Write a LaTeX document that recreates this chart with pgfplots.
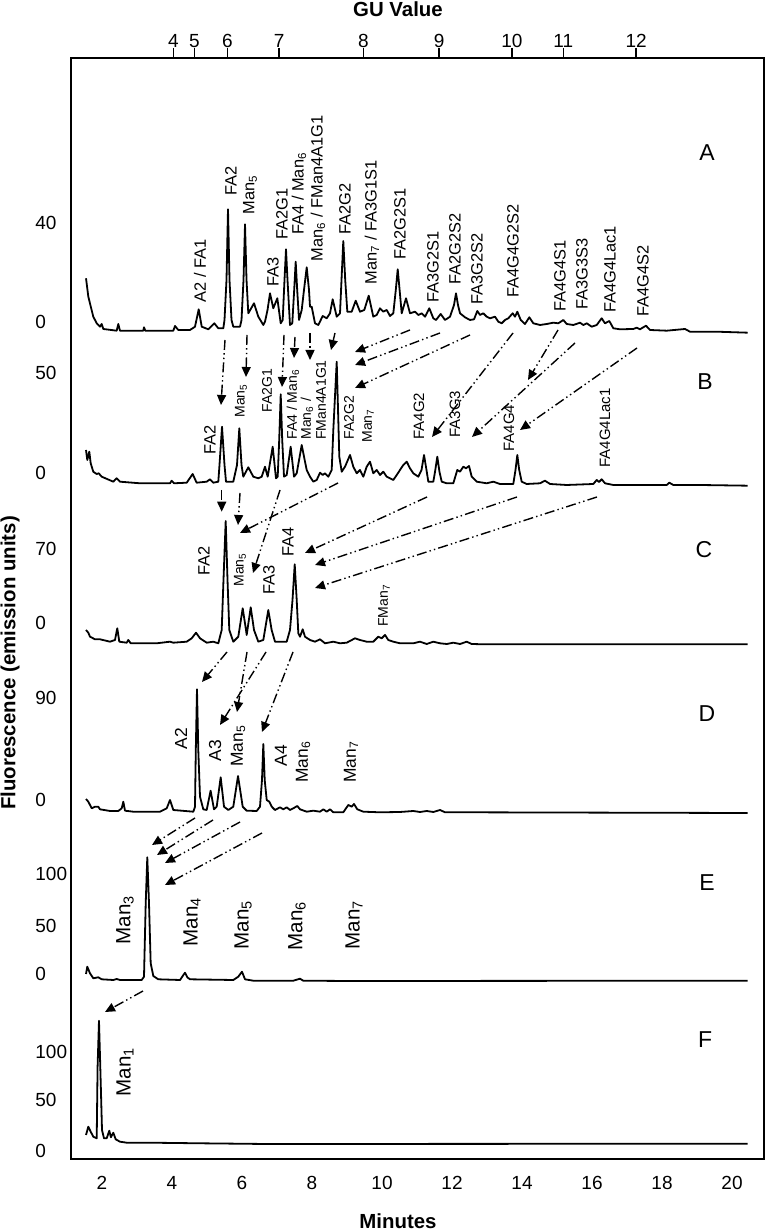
\documentclass[border=0pt]{standalone}
\usepackage{pgfplots}
\pgfplotsset{compat=1.18}
\usepackage{fontspec}
\setmainfont{Liberation Sans}
\usetikzlibrary{arrows.meta}
\begin{document}
\begin{tikzpicture}
\useasboundingbox (0pt,0pt) rectangle (383pt,615.5pt);
\tikzset{
 ann/.style={rotate=90,anchor=west,inner sep=0pt,font=\fontsize{8.2}{9}\selectfont},
 annd/.style={rotate=90,anchor=west,inner sep=0pt,font=\fontsize{8.7}{10}\selectfont},
 anns/.style={rotate=90,anchor=west,inner sep=0pt,font=\fontsize{7}{8}\selectfont},
 annm/.style={rotate=90,anchor=west,inner sep=0pt,font=\fontsize{7.5}{8}\selectfont},
 annl/.style={rotate=90,anchor=west,inner sep=0pt,font=\fontsize{10.3}{12}\selectfont},
 let/.style={font=\fontsize{11.5}{13}\selectfont},
 arr/.style={line width=0.7pt, dash pattern=on 5pt off 1.6pt on 0.7pt off 1.6pt on 0.7pt off 1.6pt, -{Triangle[length=5pt,width=4.5pt]}},
 tr/.style={black, line width=0.9pt, line join=round}
}
\begin{axis}[
  at={(35.5pt,36pt)}, anchor=south west, scale only axis,
  width=346.5pt, height=550.5pt,
  xmin=1.1143, xmax=20.914, ymin=0, ymax=1101,
  clip=false,
  axis line style={line width=0.8pt},
  major tick length=0pt,
  xtick={2,4,6,8,10,12,14,16,18,20},
  xticklabels={2,4,6,8,10,12,14,16,18,20},
  xticklabel style={anchor=center, yshift=-12pt, inner sep=0pt, font=\fontsize{9.5}{10}\selectfont},
  ytick={8.3,59,107.3,185,233,284.7,359,460.7,535.7,609.7,685.7,786.3,837.3,936.3},
  yticklabels={0,50,100,0,50,100,0,90,0,70,0,50,0,40},
  yticklabel style={anchor=west, xshift=-18pt, inner sep=0pt, font=\fontsize{9.5}{10}\selectfont},
]
% Trace A
\addplot[tr] coordinates {
(1.543,880.7)(1.609,862.3)(1.751,842.3)(1.849,835.7)(1.943,832.3)(1.991,835)(2.037,830)(2.42,828.3)(2.466,835)(2.514,828.3)
(3.18,828.3)(3.2,831.7)(3.237,828.3)(4.037,828.3)(4.086,833)(4.18,829)(4.514,829)(4.657,832.3)(4.763,849.7)(4.849,832.3)
(5.037,829.7)(5.209,835.7)(5.323,830.7)(5.466,830.7)(5.5,839)(5.557,879)(5.6,949.7)(5.643,879)(5.7,839)(5.751,832.3)
(5.943,832.3)(5.986,839)(6.043,879)(6.086,934.7)(6.129,879)(6.18,845.7)(6.343,855.7)(6.466,842.3)(6.609,834)(6.657,837.3)
(6.729,849)(6.8,865.7)(6.894,850.7)(7.009,860.7)(7.106,835.7)(7.163,839)(7.214,879)(7.257,909.7)(7.3,879)(7.371,834)
(7.437,835.7)(7.491,869)(7.534,897.3)(7.577,869)(7.629,839)(7.706,849)(7.771,869)(7.849,891.7)(7.914,869)(7.943,852.3)
(7.991,852.3)(8.086,835.7)(8.18,834)(8.306,843)(8.42,840.7)(8.514,845.7)(8.591,859.7)(8.706,842.3)(8.8,845.7)(8.843,879)
(8.894,918)(8.949,879)(9.009,847.3)(9.134,847.3)(9.249,858.3)(9.371,847.3)(9.494,849)(9.62,863.3)(9.751,842.3)(9.849,844)
(9.943,850.7)(10.037,847.3)(10.134,849)(10.229,843)(10.323,845.7)(10.394,869)(10.449,889.7)(10.503,869)(10.563,845.7)(10.686,860.7)
(10.8,845.7)(10.943,847.3)(11.037,844)(11.134,845.7)(11.229,842.3)(11.351,850.7)(11.466,840.7)(11.543,839)(11.677,845)(11.8,839)
(11.943,842.3)(12.057,854)(12.114,865.7)(12.171,854)(12.229,845.7)(12.371,841.7)(12.514,839)(12.629,839.7)(12.723,848)(12.8,844)
(12.894,845.7)(12.991,842.3)(13.086,840.7)(13.229,842.3)(13.323,837.3)(13.42,835.7)(13.514,839)(13.609,840.7)(13.734,845.7)(13.8,842.3)
(13.866,847.3)(13.963,839)(14.086,835)(14.209,841.7)(14.323,835.7)(14.514,834)(14.706,835)(14.894,836.3)(15.037,835.7)(15.18,839)
(15.277,835)(15.466,834)(15.657,836.3)(15.751,834)(15.849,835.7)(15.991,832.3)(16.134,834)(16.277,840.7)(16.371,835.7)(16.494,838)
(16.609,830.7)(16.8,829.7)(17.18,830)(17.277,831.3)(17.371,829.7)(17.543,833.3)(17.657,829)(18.134,828.3)(18.657,830)(18.8,827.3)
(19.563,827.3)(20.449,826.3)
};
% Trace B
\addplot[tr] coordinates {
(1.543,709)(1.58,699)(1.637,707.3)(1.677,695.7)(1.751,687.3)(1.849,685)(1.906,685.7)(1.991,682.3)(2.323,677.3)(2.417,680.7)
(2.514,677.3)(3.086,675.7)(3.943,675.7)(3.991,678.3)(4.057,675.7)(4.42,676.3)(4.591,685)(4.703,676.3)(4.991,677.3)(5.086,679.7)
(5.18,676.3)(5.323,677.3)(5.357,694)(5.429,732.3)(5.5,694)(5.543,677.3)(5.751,677.3)(5.857,694)(5.923,730.7)(5.986,694)
(6.037,682.3)(6.18,691.7)(6.323,682.3)(6.466,680.7)(6.563,682.3)(6.657,692.3)(6.734,682.3)(6.877,712.3)(6.971,680.7)(7.02,682.3)
(7.063,719)(7.106,764.7)(7.149,719)(7.2,682.3)(7.277,684)(7.391,712.3)(7.486,682.3)(7.563,685.7)(7.706,714)(7.8,697.3)
(7.849,689)(7.943,682.3)(8.037,677.3)(8.134,679)(8.229,686.3)(8.306,684)(8.371,685.7)(8.466,682.3)(8.563,689)(8.609,729)
(8.706,797.3)(8.78,702.3)(8.849,687.3)(8.943,692.3)(9.086,704)(9.18,692.3)(9.277,685.7)(9.371,689)(9.466,682.3)(9.563,692.3)
(9.657,697.3)(9.751,685.7)(9.849,689)(9.943,684)(10.037,687.3)(10.134,682.3)(10.229,680.7)(10.323,679)(10.42,684)(10.514,689)
(10.609,694)(10.706,697.3)(10.8,690.7)(10.894,685.7)(11.037,682.3)(11.129,689)(11.2,704)(11.271,689)(11.323,677.3)(11.466,677.3)
(11.514,687)(11.58,702.3)(11.643,687)(11.706,677.3)(11.849,675.7)(12.037,675.7)(12.151,689)(12.229,687.3)(12.323,692.3)(12.4,690.7)
(12.486,693)(12.563,682.3)(12.706,677.3)(12.991,675.7)(13.18,677.3)(13.371,675)(13.751,675)(13.814,689)(13.866,704)(13.92,689)
(13.991,677.3)(14.134,675)(14.514,675.7)(14.657,678.3)(14.8,675)(15.277,674)(16.037,675)(16.134,679)(16.2,677)(16.277,679.7)
(16.371,675.7)(16.609,674)(18.134,674)(18.209,676.3)(18.323,674)(19.086,674)(20.449,673.3)
};
% Trace C
\addplot[tr] coordinates {
(1.543,529)(1.609,526.3)(1.657,522.3)(1.8,519.7)(1.943,519.7)(2.229,517.3)(2.371,519)(2.437,530.7)(2.494,517.3)(2.706,516.3)
(2.751,519)(2.82,515.7)(3.563,515.7)(3.943,517.3)(4.037,516.3)(4.42,517.3)(4.563,520.7)(4.686,526.3)(4.8,520.7)(4.991,516.3)
(5.18,517.3)(5.323,515.7)(5.42,529)(5.471,579)(5.534,638)(5.586,579)(5.637,529)(5.751,517.3)(5.894,522.3)(6.02,550.7)
(6.114,529)(6.134,524)(6.249,551.7)(6.343,529)(6.466,517.3)(6.609,519)(6.751,549)(6.847,529)(6.943,517.3)(7.277,517.3)
(7.371,529)(7.443,559)(7.506,594.7)(7.563,559)(7.609,525.7)(7.657,522.3)(7.734,529.7)(7.8,522.3)(7.943,519)(8.086,517.3)
(8.229,519.7)(8.371,515.7)(8.609,517.3)(8.8,515.7)(8.991,516.3)(9.229,520.7)(9.371,519)(9.563,517.3)(9.751,517.3)(9.894,522.3)
(9.991,520.7)(10.086,524)(10.18,519)(10.323,517.3)(10.514,515.7)(10.894,515.7)(11.086,517.3)(11.277,515)(11.466,517.3)(11.657,515.7)
(11.849,515)(12.037,516.3)(12.229,515)(12.42,517.3)(12.563,515)(12.894,514.7)(20.449,514.7)
};
% Trace D
\addplot[tr] coordinates {
(1.543,360)(1.609,357.3)(1.706,350.7)(1.8,352.3)(1.894,352.3)(1.943,349.7)(2.229,348)(2.466,348)(2.563,350.7)(2.609,357.3)
(2.657,348.3)(2.894,347.3)(3.657,347.3)(3.849,350.7)(3.943,359)(4.037,349)(4.609,347.3)(4.657,352.3)(4.68,409)(4.714,469.7)
(4.751,409)(4.8,362.3)(4.894,349.7)(4.991,349)(5.103,368.3)(5.2,349.7)(5.277,352.3)(5.391,381.7)(5.486,352.3)(5.609,349)
(5.751,352.3)(5.886,383)(6.02,352.3)(6.134,348.3)(6.42,348)(6.514,352.3)(6.571,379)(6.609,415)(6.649,379)(6.706,359)
(6.78,357.3)(6.849,352.3)(6.943,349)(7.086,351.7)(7.18,349.7)(7.277,351.7)(7.371,349)(7.466,350.7)(7.58,353)(7.657,349.7)
(7.849,347.3)(8.037,348.3)(8.229,347.3)(8.323,349.7)(8.42,347.3)(8.514,349.7)(8.609,346.7)(8.894,346.7)(9.037,354)(9.134,352.3)
(9.2,355)(9.294,349.7)(9.466,347.3)(9.943,346.7)(10.514,347)(10.894,348)(11.086,347)(11.277,348)(11.466,347)(11.657,349)
(11.8,346.7)(12.42,346.7)(20.449,346)
};
% Trace E
\addplot[tr] coordinates {
(1.543,185)(1.58,192.3)(1.657,185.7)(1.751,180.7)(1.894,181.7)(1.991,179.7)(2.323,179)(2.42,180)(2.514,179)(3.134,179)
(3.2,182.3)(3.249,255.7)(3.294,301.7)(3.343,255.7)(3.391,195.7)(3.466,183)(3.609,179.7)(4.229,179)(4.306,183)(4.371,186.3)
(4.437,181.7)(4.514,179.7)(5.751,179)(5.894,182.3)(6.0,187.3)(6.086,179.7)(6.323,178.3)(7.466,178.3)(7.657,180.3)(7.751,178.3)
(9.086,178)(20.449,178.3)
};
% Trace F
\addplot[tr] coordinates {
(1.543,24)(1.609,32.3)(1.677,27.3)(1.751,22.3)(1.849,20.7)(1.874,92.3)(1.914,138.3)(1.951,92.3)(2.0,29)(2.057,20.7)
(2.134,20.7)(2.209,28.3)(2.254,21.7)(2.323,26.3)(2.391,19.7)(2.514,17.3)(2.706,16.3)(3.371,16.3)(4.8,15.7)(6.706,15)
(20.449,15.3)
};
% axis titles
\node[font=\fontsize{10.2}{12}\selectfont\bfseries] at (axis cs:10.457,1150) {GU Value};
\node[inner sep=0pt,font=\fontsize{10.2}{12}\selectfont\bfseries] at (axis cs:10.457,-62) {Minutes};
\node[rotate=90,font=\fontsize{10.2}{12}\selectfont\bfseries] at (axis cs:-0.629,496) {Fluorescence (emission units)};
% panel letters
\node[let] at (axis cs:19.286,1006) {A};
\node[let] at (axis cs:19.229,777.3) {B};
\node[let] at (axis cs:19.2,609) {C};
\node[let] at (axis cs:19.286,445.3) {D};
\node[let] at (axis cs:19.286,276.4) {E};
\node[let] at (axis cs:19.229,119.4) {F};
% labels A
\node[ann] at (axis cs:4.8,856) {A2 / FA1};
\node[ann] at (axis cs:5.686,963) {FA2};
\node[ann] at (axis cs:6.229,944) {Man\textsubscript{5}};
\node[ann] at (axis cs:6.886,872) {FA3};
\node[ann] at (axis cs:7.143,919) {FA2G1};
\node[ann] at (axis cs:7.629,924) {FA4 / Man\textsubscript{6}};
\node[ann] at (axis cs:8.171,897) {Man\textsubscript{6} / FMan4A1G1};
\node[ann] at (axis cs:8.943,924) {FA2G2};
\node[ann] at (axis cs:9.714,874) {Man\textsubscript{7} / FA3G1S1};
\node[ann] at (axis cs:10.514,899) {FA2G2S1};
\node[ann] at (axis cs:11.457,856) {FA3G2S1};
\node[ann] at (axis cs:12.086,874) {FA2G2S2};
\node[ann] at (axis cs:12.714,854) {FA3G2S2};
\node[ann] at (axis cs:13.743,861) {FA4G4G2S2};
\node[ann] at (axis cs:15.086,847) {FA4G4S1};
\node[ann] at (axis cs:15.714,849) {FA3G3S3};
\node[ann] at (axis cs:16.514,846) {FA4G4Lac1};
\node[ann] at (axis cs:17.457,842) {FA4G4S2};
% labels B
\node[ann] at (axis cs:5.086,704) {FA2};
\node[anns] at (axis cs:5.971,741) {Man\textsubscript{5}};
\node[anns] at (axis cs:6.714,746) {FA2G1};
\node[anns] at (axis cs:7.457,719) {FA4 / Man\textsubscript{6}};
\node[anns] at (axis cs:7.857,719) {Man\textsubscript{6} /};
\node[anns] at (axis cs:8.257,719) {FMan4A1G1};
\node[anns] at (axis cs:9.057,719) {FA2G2};
\node[anns] at (axis cs:9.6,716) {Man\textsubscript{7}};
\node[annm] at (axis cs:11.057,719) {FA4G2};
\node[annm] at (axis cs:12.086,721) {FA3G3};
\node[annm] at (axis cs:13.629,707) {FA4G4};
\node[annm] at (axis cs:16.371,691) {FA4G4Lac1};
% labels C
\node[ann] at (axis cs:4.914,583) {FA2};
\node[anns] at (axis cs:5.943,572) {Man\textsubscript{5}};
\node[ann] at (axis cs:6.771,564) {FA3};
\node[ann] at (axis cs:7.314,602) {FA4};
\node[anns] at (axis cs:10.057,532) {FMan\textsubscript{7}};
% labels D
\node[annd] at (axis cs:4.257,409) {A2};
\node[annd] at (axis cs:5.229,397) {A3};
\node[annd] at (axis cs:5.886,392) {Man\textsubscript{5}};
\node[annd] at (axis cs:7.114,392) {A4};
\node[annd] at (axis cs:7.743,376) {Man\textsubscript{6}};
\node[annd] at (axis cs:9.114,376) {Man\textsubscript{7}};
% labels E, F
\node[annl] at (axis cs:2.657,214) {Man\textsubscript{3}};
\node[annl] at (axis cs:4.571,212) {Man\textsubscript{4}};
\node[annl] at (axis cs:6.029,209) {Man\textsubscript{5}};
\node[annl] at (axis cs:7.571,208) {Man\textsubscript{6}};
\node[annl] at (axis cs:9.2,209) {Man\textsubscript{7}};
\node[annl] at (axis cs:2.657,62) {Man\textsubscript{1}};
% arrows A -> B
\draw[arr] (axis cs:5.514,819) -- (axis cs:5.4,754);
\draw[arr] (axis cs:6.143,824) -- (axis cs:6.114,782);
\draw[arr] (axis cs:7.2,824) -- (axis cs:7.143,772);
\draw[arr] (axis cs:7.514,822) -- (axis cs:7.486,801);
\draw[arr] (axis cs:7.943,826) -- (axis cs:7.943,799);
\draw[arr] (axis cs:8.657,826) -- (axis cs:8.543,809);
\draw[arr] (axis cs:10.8,829) -- (axis cs:9.229,807);
\draw[arr] (axis cs:11.657,826) -- (axis cs:9.229,794);
\draw[arr] (axis cs:12.514,824) -- (axis cs:9.229,771);
\draw[arr] (axis cs:13.743,826) -- (axis cs:11.429,722);
\draw[arr] (axis cs:15.514,816) -- (axis cs:12.571,722);
\draw[arr] (axis cs:15.029,829) -- (axis cs:14.171,779);
\draw[arr] (axis cs:17.286,811) -- (axis cs:13.943,729);
% arrows B -> C
\draw[arr] (axis cs:5.42,669) -- (axis cs:5.42,647.3);
\draw[arr] (axis cs:5.943,666) -- (axis cs:5.886,634);
\draw[arr] (axis cs:7.086,669) -- (axis cs:6.314,586);
\draw[arr] (axis cs:8.743,676) -- (axis cs:5.943,626);
\draw[arr] (axis cs:11.286,662) -- (axis cs:7.8,606);
\draw[arr] (axis cs:13.857,662) -- (axis cs:8.086,594);
\draw[arr] (axis cs:16.143,662) -- (axis cs:8.086,571);
% arrows C -> D
\draw[arr] (axis cs:5.571,507) -- (axis cs:4.857,477);
\draw[arr] (axis cs:6.143,507) -- (axis cs:5.857,447);
\draw[arr] (axis cs:6.686,507) -- (axis cs:5.371,434);
\draw[arr] (axis cs:7.457,507) -- (axis cs:6.571,427);
% arrows D -> E
\draw[arr] (axis cs:4.657,341) -- (axis cs:3.429,314);
\draw[arr] (axis cs:5.171,339) -- (axis cs:3.571,304);
\draw[arr] (axis cs:5.943,337) -- (axis cs:3.8,296);
\draw[arr] (axis cs:6.571,326) -- (axis cs:3.8,274);
% arrow E -> F
\draw[arr] (axis cs:3.171,168) -- (axis cs:2.086,147);
\end{axis}
\begin{axis}[
  at={(35.5pt,36pt)}, anchor=south west, scale only axis,
  width=346.5pt, height=550.5pt,
  xmin=1.1143, xmax=20.914, ymin=0, ymax=1101,
  axis x line*=top, axis y line=none,
  axis line style={line width=0.8pt},
  xtick={4.04,4.64,5.58,7.06,9.47,11.63,13.71,15.18,17.26},
  xticklabels={4,5,6,7,8,9,10,11,12},
  tick align=outside, major tick length=5pt,
  tick style={black, line width=0.8pt},
  xticklabel style={yshift=-3.5pt, font=\fontsize{9.5}{10}\selectfont},
]
\end{axis}
\end{tikzpicture}
\end{document}
